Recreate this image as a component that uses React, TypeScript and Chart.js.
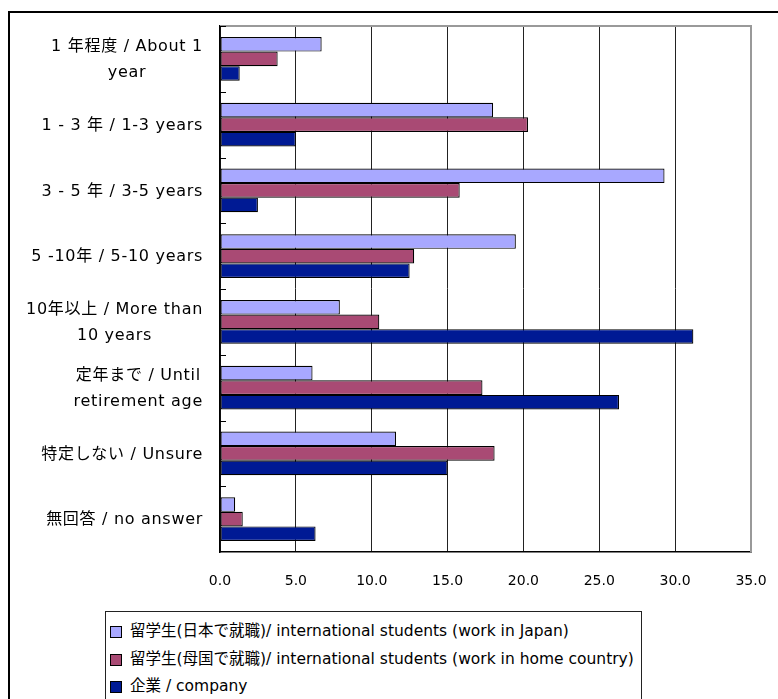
import React, { useEffect, useRef } from "react";
import { Chart, registerables } from "chart.js";

Chart.register(...registerables);

const categories: (string | string[])[] = [
  ["1 年程度 / About 1", "year"],
  "1 - 3 年 / 1-3 years",
  "3 - 5 年 / 3-5 years",
  "5 -10年 / 5-10 years",
  ["10年以上 / More than", "10 years"],
  ["定年まで / Until", "retirement age"],
  "特定しない / Unsure",
  "無回答 / no answer",
];

const seriesLabels = [
  "留学生(日本で就職)/ international students (work in Japan)",
  "留学生(母国で就職)/ international students (work in home country)",
  "企業 / company",
];

const studentsJapan = [6.7, 18.0, 29.3, 19.5, 7.9, 6.1, 11.6, 1.0];
const studentsHome = [3.8, 20.3, 15.8, 12.8, 10.5, 17.3, 18.1, 1.5];
const company = [1.3, 5.0, 2.5, 12.5, 31.2, 26.3, 15.0, 6.3];

const seriesValues = [studentsJapan, studentsHome, company];
const seriesColors = ["#A8A8FF", "#A94A74", "#001A94"];

const xTicks = [0, 5, 10, 15, 20, 25, 30, 35];

const FONT = '"DejaVu Sans", "Noto Sans CJK JP", sans-serif';

const customPlugin = {
  id: "customDecor",
  afterDraw(chart: any) {
    const { ctx, chartArea: a, scales } = chart;
    const yS = scales.y;
    ctx.save();
    // top and right plot borders
    ctx.strokeStyle = "#999";
    ctx.lineWidth = 2;
    ctx.beginPath();
    ctx.moveTo(a.left, a.top);
    ctx.lineTo(a.right, a.top);
    ctx.lineTo(a.right, a.bottom);
    ctx.stroke();
    // category tick marks (inside)
    const n = categories.length;
    const step = (a.bottom - a.top) / n;
    ctx.strokeStyle = "#000";
    ctx.lineWidth = 1;
    for (let k = 0; k < n; k++) {
      const yy = Math.round(a.top + k * step) + 0.5;
      ctx.beginPath();
      ctx.moveTo(a.left, yy);
      ctx.lineTo(a.left + 6, yy);
      ctx.stroke();
    }
    // category labels: block right-aligned, lines centered
    ctx.font = `16px ${FONT}`;
    try {
      (ctx as any).letterSpacing = "0.7px";
    } catch (e) {}
    ctx.fillStyle = "#000";
    ctx.textBaseline = "middle";
    ctx.textAlign = "center";
    const lineH = 26.5;
    categories.forEach((lab, i) => {
      const lines = Array.isArray(lab) ? lab : [lab];
      const w = Math.max(...lines.map((l) => ctx.measureText(l).width));
      const cx = a.left - 17 - w / 2;
      const cy = yS.getPixelForValue(i) + 1;
      lines.forEach((l, j) => {
        ctx.fillText(l, cx, cy + (j - (lines.length - 1) / 2) * lineH);
      });
    });
    ctx.restore();
  },
};

export default function App() {
  const ref = useRef<HTMLCanvasElement>(null);

  useEffect(() => {
    if (!ref.current) return;
    const chart = new Chart(ref.current, {
      type: "bar",
      data: {
        labels: categories,
        datasets: seriesValues.map((vals, i) => ({
          label: seriesLabels[i],
          data: vals,
          backgroundColor: seriesColors[i],
          borderColor: "#000",
          borderWidth: 1.2,
          borderSkipped: false,
          barPercentage: 1,
          categoryPercentage: 0.665,
        })),
      },
      options: {
        indexAxis: "y",
        responsive: false,
        animation: false,
        devicePixelRatio: 1,
        layout: { padding: { left: 0, top: 26, right: 27, bottom: 0 } },
        plugins: {
          legend: { display: false },
          tooltip: { enabled: false },
        },
        scales: {
          x: {
            min: xTicks[0],
            max: xTicks[xTicks.length - 1],
            afterBuildTicks: (s: any) => {
              s.ticks = xTicks.map((v) => ({ value: v }));
            },
            ticks: {
              callback: (v: any) => Number(v).toFixed(1),
              color: "#000",
              font: { family: FONT, size: 14 },
              padding: 21,
              maxRotation: 0,
            },
            grid: {
              color: (c: any) => (c.tick && c.tick.value === 35 ? "#999" : "#222"),
              lineWidth: (c: any) => (c.tick && c.tick.value === 35 ? 2 : 1),
              drawTicks: false,
            },
            border: { color: "#000", width: 1.5 },
            afterFit: (s: any) => {
              s.height = 699 - 552;
              s.paddingRight = 0;
              s.paddingLeft = 0;
            },
          },
          y: {
            ticks: { display: false },
            grid: { display: false },
            border: { color: "#000", width: 1.5 },
            afterFit: (s: any) => {
              s.width = 220;
            },
          },
        },
      },
      plugins: [customPlugin],
    });
    return () => chart.destroy();
  }, []);

  return (
    <div
      style={{
        position: "absolute",
        left: 0,
        top: 0,
        width: 778,
        height: 699,
        overflow: "hidden",
        background: "#fff",
      }}
    >
      <div
        style={{
          position: "absolute",
          left: 8,
          top: 11,
          width: 900,
          height: 900,
          border: "2px solid #000",
        }}
      />
      <canvas
        ref={ref}
        width={778}
        height={699}
        style={{ position: "absolute", left: 0, top: 0, width: 778, height: 699 }}
      />
      <div
        style={{
          position: "absolute",
          left: 105,
          top: 611,
          width: 537,
          height: 100,
          border: "1px solid #222",
          background: "#fff",
          boxSizing: "border-box",
          paddingTop: 6,
          fontFamily: FONT,
          fontSize: 15.5,
          color: "#000",
        }}
      >
        {seriesLabels.map((lab, i) => (
          <div
            key={i}
            style={{
              height: 27.5,
              lineHeight: "27.5px",
              whiteSpace: "nowrap",
              position: "relative",
              paddingLeft: 24,
            }}
          >
            <span
              style={{
                position: "absolute",
                left: 4,
                top: 8,
                width: 10,
                height: 10,
                background: seriesColors[i],
                border: "1px solid #000",
              }}
            />
            {lab}
          </div>
        ))}
      </div>
    </div>
  );
}
